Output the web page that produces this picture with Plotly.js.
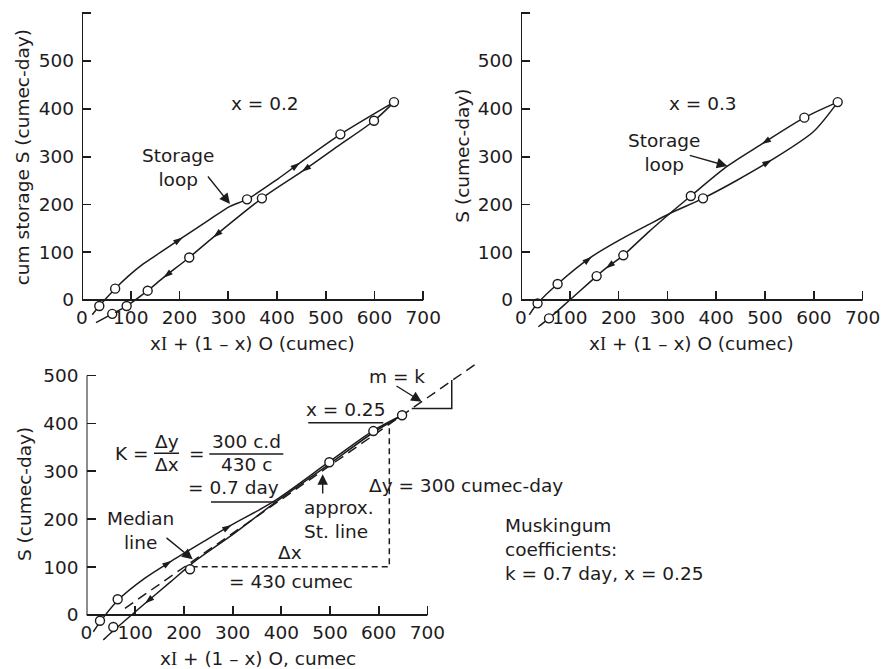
<!DOCTYPE html>
<html><head><meta charset="utf-8">
<script src="https://cdn.plot.ly/plotly-3.0.1.min.js"></script>
<style>body{margin:0;background:#fff}#chart{width:881px;height:669px}</style>
</head><body><div id="chart"></div>
<script>
// ---------------- DATA ----------------
// Panel (a): x = 0.2
const aMarkX = [35.5, 68, 338.5, 530, 640, 599, 369, 220, 134.7, 91.6, 62];
const aMarkY = [-12.6, 23.7, 210.6, 346.6, 414, 375, 212.7, 89, 19.5, -12.6, -29];
const aRiseX = [21, 35.5, 68, 95, 125, 160, 206.5, 260, 303.6, 338.5, 400, 447, 530, 640];
const aRiseY = [-31, -12.6, 23.7, 50, 75, 99, 131, 167, 196, 210.6, 252, 287, 346.6, 414];
const aFallX = [640, 599, 525, 450.6, 369, 269, 220, 167, 134.7, 91.6, 62, 28.7];
const aFallY = [414, 375, 322, 268.5, 212.7, 131, 89, 46.7, 19.5, -12.6, -29, -47.5];
const aRiseArrX = [206.5, 447], aRiseArrY = [131, 287];
const aFallArrX = [450.6, 269, 167], aFallArrY = [268.5, 131, 46.7];

// Panel (b): x = 0.3
const bMarkX = [34, 75, 57.4, 155, 209.7, 348, 373, 580.6, 649];
const bMarkY = [-7, 33.5, -38.4, 50, 93.5, 217.6, 212.7, 381.5, 414];
const bRiseX = [17, 34, 75, 145, 210, 260, 305, 373, 440, 513.7, 599, 649];
const bRiseY = [-31, -7, 33.5, 90.6, 130, 157, 181, 212.7, 249, 293, 352, 414];
const bFallX = [649, 580.6, 493, 422.8, 348, 305, 260, 209.7, 173.5, 155, 100, 57.4, 35.5];
const bFallY = [414, 381.5, 326, 280, 217.6, 181, 141, 93.5, 66, 50, 0, -38.4, -56];
const bRiseArrX = [145, 513.7], bRiseArrY = [90.6, 293];
const bFallArrX = [493, 173.5], bFallArrY = [326, 66];

// Panel (c): x = 0.25
const cMarkX = [27.7, 64, 55, 212.5, 498.6, 589, 648];
const cMarkY = [-11.9, 32.8, -25, 95.4, 318.8, 384, 417];
const cRiseX = [14, 29, 65, 120, 175, 240, 298, 383.6, 498.6, 589, 648];
const cRiseY = [-35, -12.7, 31.5, 77, 113, 153, 188, 236.5, 320, 385, 417];
const cFallX = [648, 589, 498.6, 383.6, 300, 226, 170, 120, 55, 34.5];
const cFallY = [417, 381, 315, 232, 168, 115, 67, 24, -33, -52];
const cRiseArrX = [175, 298], cRiseArrY = [113, 188];
const cFallArrX = [120], cFallArrY = [24];
const cStLineX = [79, 805], cStLineY = [14, 528];
const cDeltaX = [216, 621.8, 621.8], cDeltaY = [100.8, 100.8, 398.7];
const cStepX = [667.8, 750, 750], cStepY = [431.3, 431.3, 490.6];

// Tick labels
const tickXVals = [0, 100, 200, 300, 400, 500, 600, 700];
const tickXText = ['0', '100', '200', '300', '400', '500', '600', '700'];
const tickYValsAB = [0, 100, 200, 300, 400, 500, 600];
const tickYTextAB = ['0', '100', '200', '300', '400', '500', ''];
const tickYValsC = [0, 100, 200, 300, 400, 500];
const tickYTextC = ['0', '100', '200', '300', '400', '500'];

// ---------------- LAYOUT HELPERS ----------------
const W = 881, H = 669;
const FONT = 'DejaVu Sans', INK = '#1e1b1c', FS = 18.5;
const fx = px => px / W, fy = py => (H - py) / H;
const G = {
  a: {ox: 82, oy: 300, sx: 0.4875, sy: 0.478, xr: [0, 720], yr: [-62, 610]},
  b: {ox: 521, oy: 300, sx: 0.488, sy: 0.478, xr: [0, 720], yr: [-62, 610]},
  c: {ox: 86.5, oy: 615, sx: 0.487, sy: 0.479, xr: [0, 820], yr: [-62, 540]}
};
const xdom = g => [fx(g.ox + g.xr[0] * g.sx), fx(g.ox + g.xr[1] * g.sx)];
const ydom = g => [fy(g.oy - g.yr[0] * g.sy), fy(g.oy - g.yr[1] * g.sy)];
const tf = {family: FONT, size: FS, color: INK};

function xAxis(g) {
  return {domain: xdom(g), range: g.xr, anchor: 'free', position: fy(g.oy),
    showline: false, zeroline: false, showgrid: false, ticks: 'inside', ticklen: 9,
    tickwidth: 1.8, tickcolor: INK, tickmode: 'array', tickvals: tickXVals, ticktext: tickXText,
    tickfont: tf, ticklabelstandoff: 4, fixedrange: true};
}
function yAxis(g, anchor, tv, tt) {
  return {domain: ydom(g), range: g.yr, anchor: anchor,
    showline: false, zeroline: false, showgrid: false, ticks: 'inside', ticklen: 9,
    tickwidth: 1.8, tickcolor: INK, tickmode: 'array', tickvals: tv, ticktext: tt,
    tickfont: tf, ticklabelstandoff: 7, fixedrange: true};
}

const LINE = {color: INK, width: 1.5, shape: 'spline', smoothing: 0.8};
function curve(x, y, xa, ya) {
  return {x: x, y: y, xaxis: xa, yaxis: ya, mode: 'lines', line: LINE, hoverinfo: 'skip', showlegend: false};
}
function straight(x, y, xa, ya, dash) {
  return {x: x, y: y, xaxis: xa, yaxis: ya, mode: 'lines',
    line: {color: INK, width: 1.5, dash: dash || 'solid'}, hoverinfo: 'skip', showlegend: false};
}
function marks(x, y, xa, ya) {
  return {x: x, y: y, xaxis: xa, yaxis: ya, mode: 'markers', hoverinfo: 'skip', showlegend: false,
    marker: {symbol: 'circle', size: 9, color: '#fff', line: {color: INK, width: 1.4}}};
}
function arrows(cx, cy, axs, ays, xa, ya) {
  const out = [];
  for (let i = 0; i < axs.length; i++) {
    let best = 0, bd = Infinity;
    for (let k = 0; k < cx.length - 1; k++) {
      const dx = cx[k + 1] - cx[k], dy = cy[k + 1] - cy[k];
      let t = ((axs[i] - cx[k]) * dx + (ays[i] - cy[k]) * dy) / (dx * dx + dy * dy);
      t = Math.max(0, Math.min(1, t));
      const ex = cx[k] + t * dx - axs[i], ey = cy[k] + t * dy - ays[i];
      const d = ex * ex + ey * ey;
      if (d < bd) { bd = d; best = k; }
    }
    out.push({x: [cx[best], axs[i]], y: [cy[best], ays[i]], xaxis: xa, yaxis: ya, mode: 'markers',
      hoverinfo: 'skip', showlegend: false,
      marker: {symbol: 'arrow', size: [0, 10], opacity: [0, 1], color: INK, angleref: 'previous',
        line: {width: 0}}});
  }
  return out;
}

const traces = [].concat(
  [curve(aRiseX, aRiseY, 'x', 'y'), curve(aFallX, aFallY, 'x', 'y')],
  arrows(aRiseX, aRiseY, aRiseArrX, aRiseArrY, 'x', 'y'),
  arrows(aFallX, aFallY, aFallArrX, aFallArrY, 'x', 'y'),
  [marks(aMarkX, aMarkY, 'x', 'y')],
  [curve(bRiseX, bRiseY, 'x2', 'y2'), curve(bFallX, bFallY, 'x2', 'y2')],
  arrows(bRiseX, bRiseY, bRiseArrX, bRiseArrY, 'x2', 'y2'),
  arrows(bFallX, bFallY, bFallArrX, bFallArrY, 'x2', 'y2'),
  [marks(bMarkX, bMarkY, 'x2', 'y2')],
  [straight(cStLineX, cStLineY, 'x3', 'y3', '10px,6px'),
   straight(cDeltaX, cDeltaY, 'x3', 'y3', '6px,4px'),
   straight(cStepX, cStepY, 'x3', 'y3'),
   curve(cRiseX, cRiseY, 'x3', 'y3'), curve(cFallX, cFallY, 'x3', 'y3')],
  arrows(cRiseX, cRiseY, cRiseArrX, cRiseArrY, 'x3', 'y3'),
  arrows(cFallX, cFallY, cFallArrX, cFallArrY, 'x3', 'y3'),
  [marks(cMarkX, cMarkY, 'x3', 'y3')]
);

// axis lines
const AXL = {color: INK, width: 2};
function axisLines(xr, yr, yTop) {
  return [
    {type: 'line', xref: xr, yref: yr, x0: 0, y0: 0, x1: 0, y1: yTop, line: AXL},
    {type: 'line', xref: xr, yref: yr, x0: 0, y0: 0, x1: 700, y1: 0, line: AXL}
  ];
}
const SL = {color: INK, width: 1.4};
const seg = (x0, x1, y) => ({type: 'line', xref: 'x3', yref: 'y3', x0: x0, x1: x1, y0: y, y1: y, line: SL});
const shapes = [].concat(
  axisLines('x', 'y', 600), axisLines('x2', 'y2', 600), axisLines('x3', 'y3', 500),
  [seg(138.6, 190, 337.6), seg(252.2, 404.1, 336.1), seg(255.6, 390.6, 235.9), seg(455.4, 609.4, 401.5)]
);

const XI = 'x<span style="font-family:Liberation Serif">I</span>';
function txt(xr, yr, x, y, text, extra) {
  return Object.assign({xref: xr, yref: yr, x: x, y: y, text: text, showarrow: false, font: tf,
    xanchor: 'center', yanchor: 'middle'}, extra || {});
}
function arr(xr, yr, x, y, ax, ay) {
  return {xref: xr, yref: yr, x: x, y: y, ax: ax, ay: ay, axref: xr, ayref: yr, text: '',
    showarrow: true, arrowhead: 2, arrowsize: 1.5, arrowwidth: 1.4, arrowcolor: INK, standoff: 0};
}
const annotations = [
  // titles
  txt('paper', 'paper', fx(252.5), fy(343.3), XI + ' + (1 \u2013 x) O (cumec)'),
  txt('paper', 'paper', fx(691.7), fy(343.3), XI + ' + (1 \u2013 x) O (cumec)'),
  txt('paper', 'paper', fx(258.3), fy(658.3), XI + ' + (1 \u2013 x) O, cumec'),
  txt('paper', 'paper', fx(23.3), fy(157), 'cum storage S (cumec-day)', {textangle: -90}),
  txt('paper', 'paper', fx(461.7), fy(156), 'S (cumec-day)', {textangle: -90}),
  txt('paper', 'paper', fx(24), fy(494), 'S (cumec-day)', {textangle: -90}),
  // panel a
  txt('x', 'y', 375.4, 411.5, 'x = 0.2'),
  txt('x', 'y', 197.5, 277, 'Storage<br>loop'),
  arr('x', 'y', 303.6, 200.8, 255.8, 261.5),
  // panel b
  txt('x2', 'y2', 373.6, 411.5, 'x = 0.3'),
  txt('x2', 'y2', 293, 309, 'Storage<br>loop'),
  arr('x2', 'y2', 422.7, 280.3, 342.8, 303.3),
  // panel c
  txt('x3', 'y3', 92.8, 337.6, 'K ='),
  txt('x3', 'y3', 164.7, 361.8, '\u0394y'),
  txt('x3', 'y3', 164.7, 313.2, '\u0394x'),
  txt('x3', 'y3', 226.3, 337.6, '='),
  txt('x3', 'y3', 329, 361.8, '300 c.d'),
  txt('x3', 'y3', 329, 313.2, '430 c'),
  txt('x3', 'y3', 301.4, 266, '= 0.7 day'),
  txt('x3', 'y3', 109.9, 176, 'Median<br>line'),
  arr('x3', 'y3', 218, 116.3, 161.2, 163.5),
  txt('x3', 'y3', 441.9, 200, 'approx.<br>St. line', {xanchor: 'left', align: 'left'}),
  arr('x3', 'y3', 485, 293.7, 485, 250.5),
  txt('x3', 'y3', 532.2, 428, 'x = 0.25'),
  txt('x3', 'y3', 575.4, 271.4, '\u0394y = 300 cumec-day', {xanchor: 'left'}),
  txt('x3', 'y3', 417.9, 130, '\u0394x'),
  txt('x3', 'y3', 420.5, 69.5, '= 430 cumec'),
  txt('x3', 'y3', 637, 497.5, 'm = k'),
  arr('x3', 'y3', 688.3, 445.3, 633.5, 480),
  txt('paper', 'paper', fx(503.3), fy(549), 'Muskingum<br>coefficients:<br>k = 0.7 day, x = 0.25',
      {xanchor: 'left', align: 'left'})
];

const layout = {
  width: W, height: H, autosize: false, margin: {l: 0, r: 0, t: 0, b: 0},
  paper_bgcolor: '#fff', plot_bgcolor: 'rgba(0,0,0,0)', showlegend: false,
  font: tf,
  xaxis: xAxis(G.a), yaxis: yAxis(G.a, 'x', tickYValsAB, tickYTextAB),
  xaxis2: xAxis(G.b), yaxis2: yAxis(G.b, 'x2', tickYValsAB, tickYTextAB),
  xaxis3: xAxis(G.c), yaxis3: yAxis(G.c, 'x3', tickYValsC, tickYTextC),
  shapes: shapes, annotations: annotations
};
Plotly.newPlot('chart', traces, layout, {staticPlot: true, displayModeBar: false});
</script>
</body></html>
